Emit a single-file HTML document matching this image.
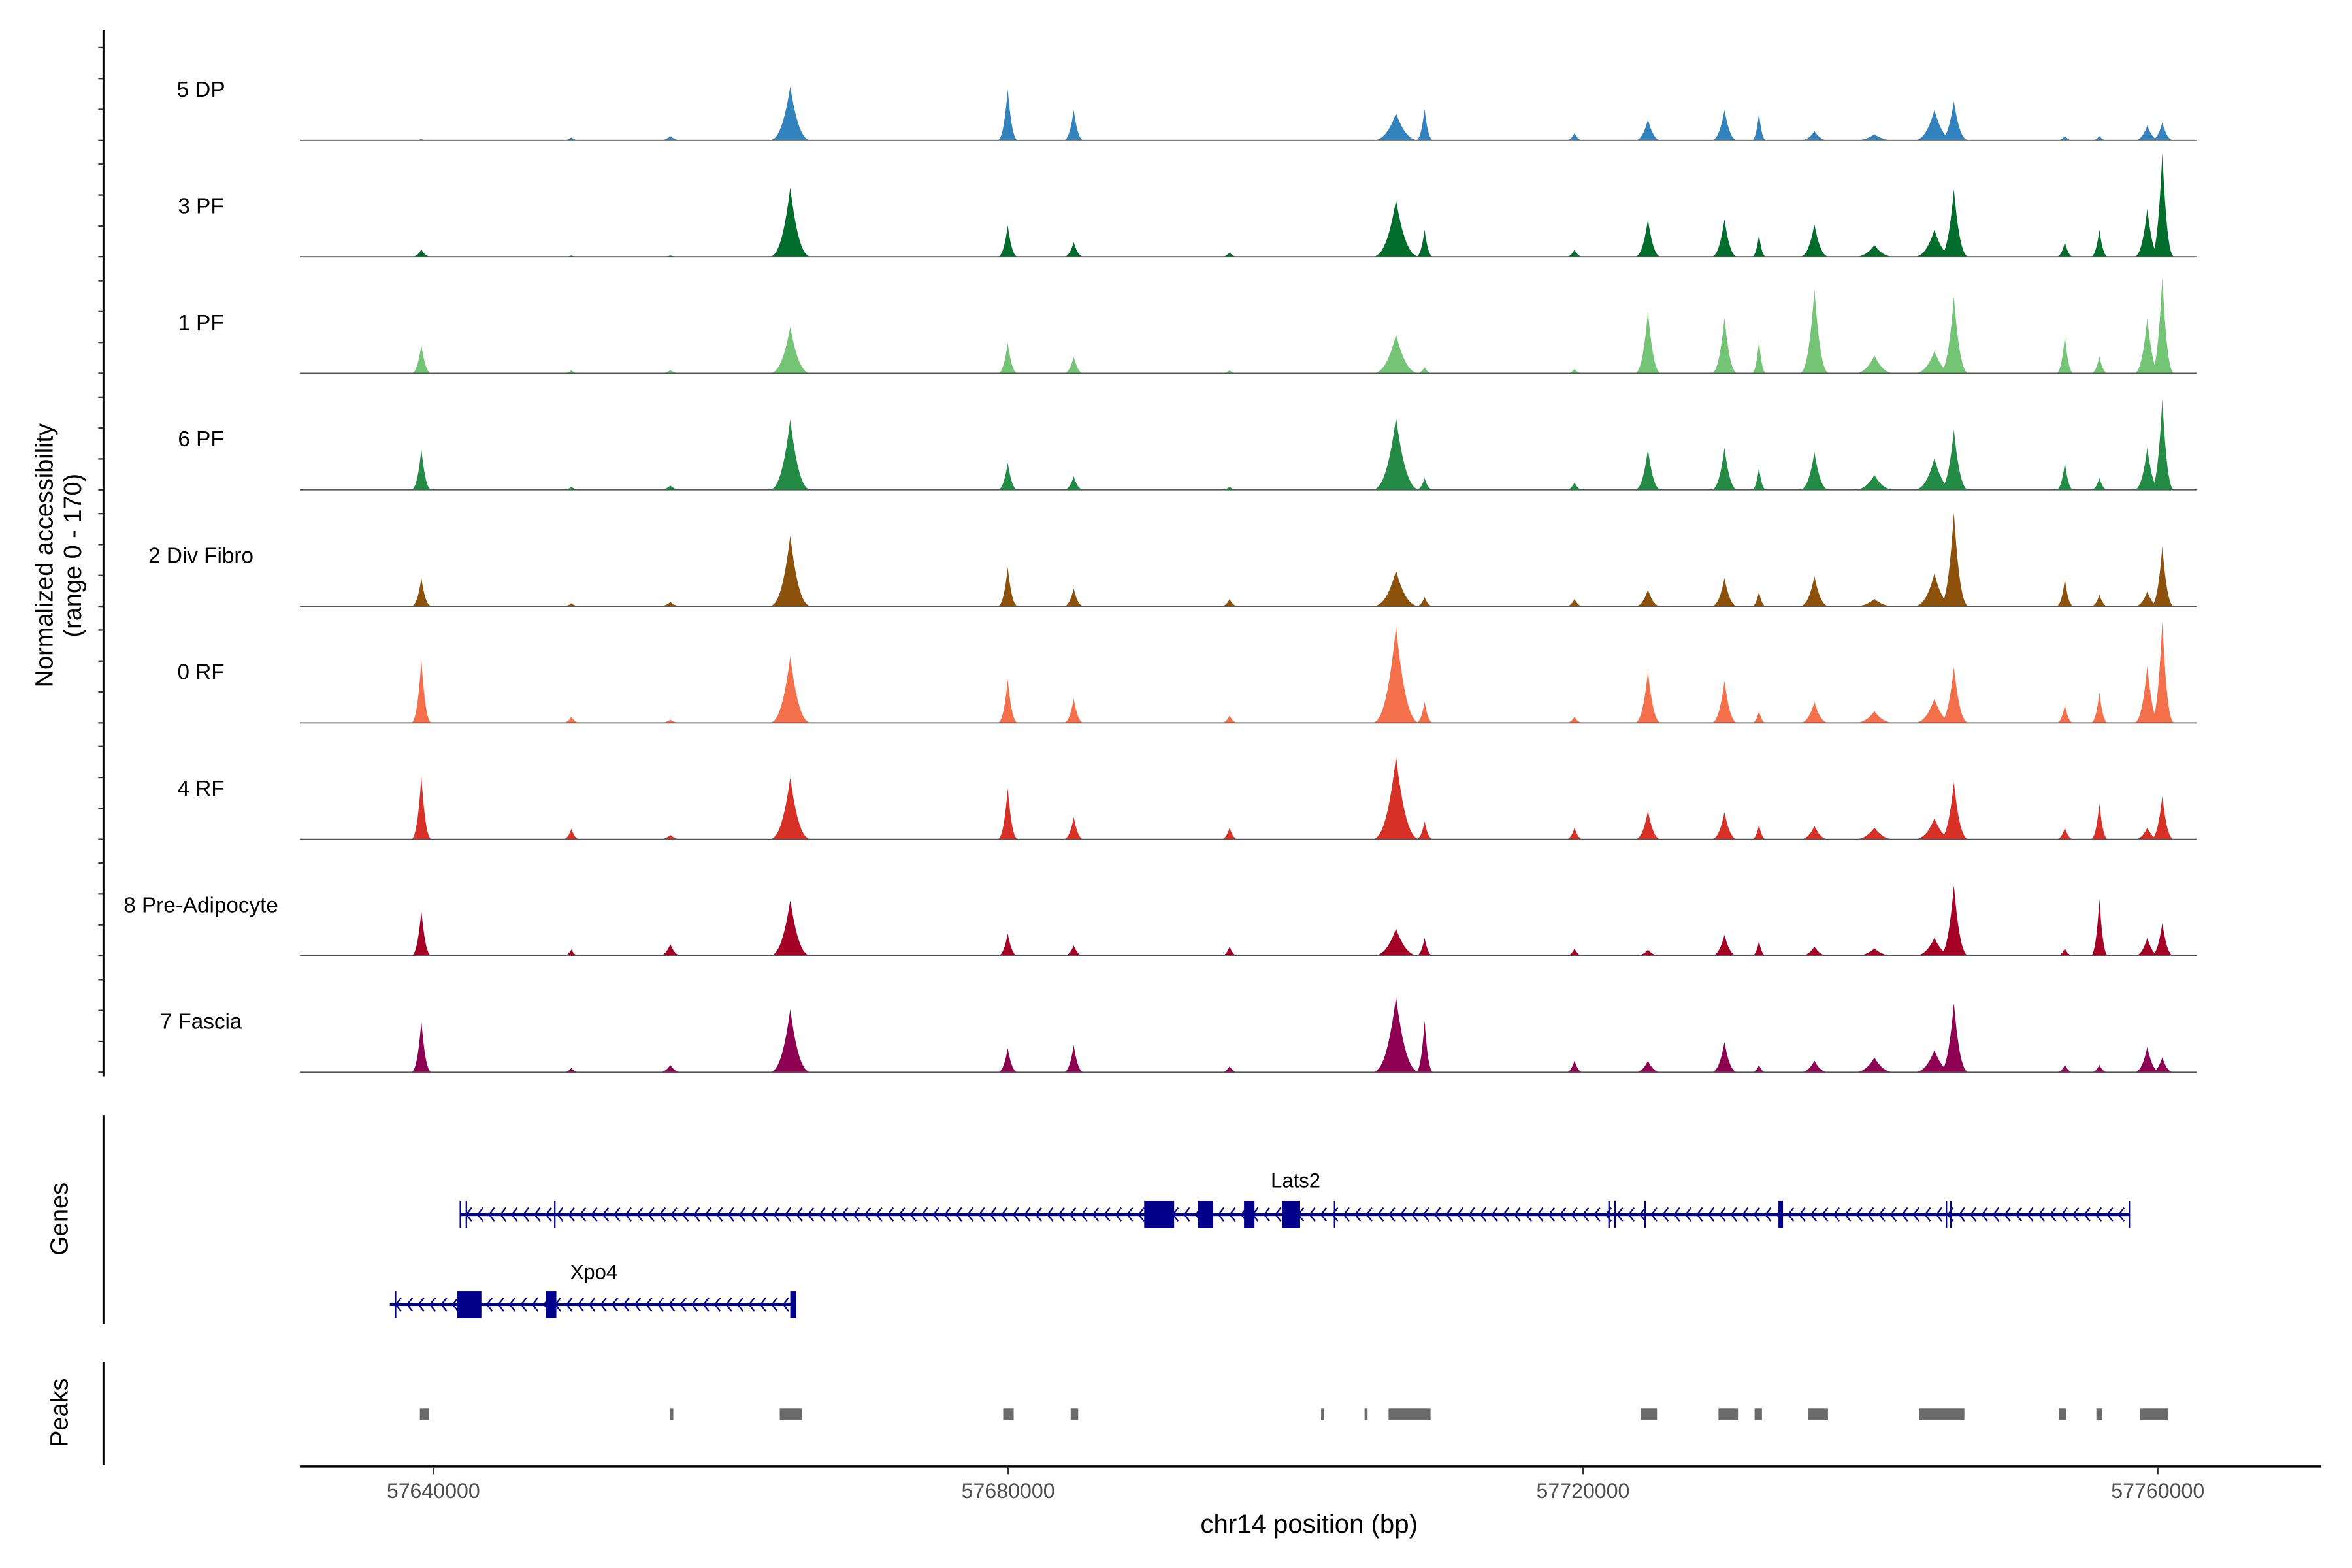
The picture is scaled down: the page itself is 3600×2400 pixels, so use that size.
<!DOCTYPE html>
<html><head><meta charset="utf-8"><style>
html,body{margin:0;padding:0;background:#fff;}
svg{display:block;font-family:"Liberation Sans",sans-serif;}
</style></head><body>
<svg id="chart" width="3600" height="2400" viewBox="0 0 1568.5 1044.5" preserveAspectRatio="none" xmlns="http://www.w3.org/2000/svg">
<rect x="0" y="0" width="1568.5" height="1044.5" fill="#fff"/>
<g id="tracks"></g>
<g id="yaxis"></g>
<text transform="translate(35,370) rotate(-90)" text-anchor="middle" font-size="16.5">Normalized accessibility</text>
<text transform="translate(54,370) rotate(-90)" text-anchor="middle" font-size="16.5">(range 0 - 170)</text>
<g id="genes"></g>
<line x1="69" y1="743" x2="69" y2="882" stroke="#000" stroke-width="1.3"/>
<text transform="translate(45,812) rotate(-90)" text-anchor="middle" font-size="16.5">Genes</text>
<g id="peaks"></g>
<line x1="69" y1="907" x2="69" y2="976" stroke="#000" stroke-width="1.3"/>
<text transform="translate(45,941) rotate(-90)" text-anchor="middle" font-size="16.5">Peaks</text>
<g id="xaxis"></g>
<text x="873" y="1021" text-anchor="middle" font-size="17.5">chr14 position (bp)</text>
</svg>
<script>
const trackNames = ["5 DP","3 PF","1 PF","6 PF","2 Div Fibro","0 RF","4 RF","8 Pre-Adipocyte","7 Fascia"];
const trackColors = ["#3182bd","#006d2c","#74c476","#238b45","#8c510a","#f4704a","#d73027","#a50026","#8e0152"];
const peakCenters = [57639165,57649600,57656490,57664835,57679970,57684560,57695410,57706990,57708975,57719410,57724520,57729845,57732245,57736105,57740280,57744455,57745810,57753535,57755935,57759270,57760315];
const peakWidths = [350,300,400,700,350,350,300,800,300,300,450,450,250,500,700,700,500,300,300,450,400];
const dp5 = [2,5,7,87,83,49,0,44,51,12,34,49,44,15,10,49,63,7,7,24,29];
const pf3 = [12,2,2,112,51,24,7,92,44,12,61,61,36,53,19,44,109,24,44,78,168];
const pf1 = [46,5,5,75,49,27,5,63,10,7,100,90,53,136,29,36,124,61,27,90,156];
const pf6 = [66,5,7,114,44,22,5,117,19,12,66,68,36,61,24,51,97,44,19,68,146];
const divFibro2 = [46,5,7,114,63,29,12,58,15,12,27,46,24,49,12,53,151,44,19,24,97];
const rf0 = [102,10,5,107,70,39,12,156,34,10,83,68,19,34,19,39,90,29,49,92,165];
const rf4 = [102,17,7,100,83,36,19,134,29,19,46,44,24,22,19,34,92,19,58,19,70];
const preAdipo8 = [73,10,19,90,36,17,15,44,29,12,10,34,24,15,12,29,114,12,92,29,53];
const fascia7 = [83,7,12,102,39,44,10,122,83,19,19,49,12,19,24,36,112,12,12,41,24];
const trackValues = [dp5,pf3,pf1,pf6,divFibro2,rf0,rf4,preAdipo8,fascia7];
const yMax = 170;
const yTicks = [0,50,100,150];
const xTicks = [57640000,57680000,57720000,57760000];
const peakStarts = [57639061,57656487,57664105,57679653,57684349,57701775,57704801,57706470,57724002,57729430,57731941,57735689,57743410,57753115,57755724,57758756];
const peakEnds = [57639687,57656696,57665670,57680383,57684871,57701984,57705010,57709392,57725150,57730785,57732454,57737046,57746540,57753636,57756141,57760739];
const lats2Range = [57641878,57758020];
const lats2Exons = [[57689462,57691549],[57693219,57694262],[57696411,57697142],[57699063,57700316]];
const lats2Thin = [57641878,57642296,57648452,57702713,57721810,57722227,57724314,57745290,57745600,57758020];
const lats2Mid = [[57733600,57733915]];
const xpo4Range = [57636974,57665253];
const xpo4Exons = [[57641670,57643340],[57647826,57648557],[57664835,57665253]];
const xpo4Thin = [57637370];

const NS="http://www.w3.org/2000/svg";
function mk(tag,attrs,parent){const e=document.createElementNS(NS,tag);for(const k in attrs)e.setAttribute(k,attrs[k]);parent.appendChild(e);return e;}
const xS = bp => 289 + (bp-57640000)*(1150/120000);
const baseY = i => 93.5 + i*77.6;
const yS = (i,v) => baseY(i) - v*(70/yMax);

const tracks=document.getElementById('tracks');
trackNames.forEach((name,i)=>{
  const g=mk('g',{},tracks);
  
  
  const t=mk('text',{x:134,y:baseY(i)-29,'text-anchor':'middle','font-size':'14.5',fill:'#000'},g);
  t.textContent=name;
  
  
  const vals=trackValues[i];
  peakCenters.forEach((c,j)=>{
    const v=vals[j]; if(v<=0) return;
    const w=peakWidths[j];
    const cx=xS(c), hw=w*1150/120000*2.2;
    let d='M'+(cx-hw).toFixed(2)+','+baseY(i);
    const n=24;
    for(let k=0;k<=n;k++){
      const f=-1+2*k/n;
      const h=v*Math.pow(1-Math.abs(f),2.6);
      d+=' L'+(cx+f*hw).toFixed(2)+','+yS(i,h).toFixed(2);
    }
    d+=' Z';
    const p=mk('path',{d:d,fill:trackColors[i]},g);
    
    
  });
  const bl=mk('line',{x1:200,x2:1465,y1:baseY(i),y2:baseY(i),stroke:'#555','stroke-width':'0.8'},g);
  
  
});

const ya=document.getElementById('yaxis');
const yl=mk('line',{x1:69,x2:69,y1:20,y2:717,stroke:'#000','stroke-width':'1.3'},ya);


trackNames.forEach((n,i)=>{
  yTicks.forEach(v=>{
    const tk=mk('line',{x1:65.5,x2:69,y1:yS(i,v),y2:yS(i,v),stroke:'#333','stroke-width':'1'},ya);
    
    
  });
});

const genes=document.getElementById('genes');
const BLUE='#00008b';
function drawGene(name,range,y,exons,thin,mids,labelX,labelY){
  const g=mk('g',{},genes);
  
  
  const x0=xS(range[0]),x1=xS(range[1]);
  mk('line',{x1:x0,x2:x1,y1:y,y2:y,stroke:BLUE,'stroke-width':'2'},g);
  let d='';
  for(let x=x0+4;x<x1-2;x+=7.6){d+='M'+(x+3.5)+','+(y-4.5)+' L'+x+','+y+' L'+(x+3.5)+','+(y+4.5)+' ';}
  mk('path',{d:d,stroke:BLUE,'stroke-width':'1',fill:'none'},g);
  thin.forEach(b=>mk('line',{x1:xS(b),x2:xS(b),y1:y-9,y2:y+9,stroke:BLUE,'stroke-width':'1'},g));
  mids.forEach(e=>mk('rect',{x:xS(e[0]),y:y-9,width:Math.max(2,xS(e[1])-xS(e[0])),height:18,fill:BLUE},g));
  exons.forEach(e=>{
    const r=mk('rect',{x:xS(e[0]),y:y-9,width:Math.max(3,xS(e[1])-xS(e[0])),height:18,fill:BLUE},g);
    
    
  });
  const t=mk('text',{x:labelX,y:labelY,'text-anchor':'middle','font-size':'13.5'},g);
  t.textContent=name;
  
  
}
drawGene('Lats2',lats2Range,809,lats2Exons,lats2Thin,lats2Mid,864,791);
drawGene('Xpo4',xpo4Range,869,xpo4Exons,xpo4Thin,[],396,852);

const pk=document.getElementById('peaks');
peakStarts.forEach((s,i)=>{
  const r=mk('rect',{x:xS(s),y:938,width:Math.max(1.2,xS(peakEnds[i])-xS(s)),height:8,fill:'#6b6b6b'},pk);
  
  
});

const xa=document.getElementById('xaxis');
const xl=mk('line',{x1:200,x2:1548,y1:977,y2:977,stroke:'#000','stroke-width':'1.5'},xa);


xTicks.forEach(v=>{
  const tk=mk('line',{x1:xS(v),x2:xS(v),y1:977,y2:982,stroke:'#333','stroke-width':'1'},xa);
  
  
  const t=mk('text',{x:xS(v),y:998,'text-anchor':'middle','font-size':'14',fill:'#4d4d4d'},xa);
  t.textContent=v;
  
  
});
</script>
</body></html>
